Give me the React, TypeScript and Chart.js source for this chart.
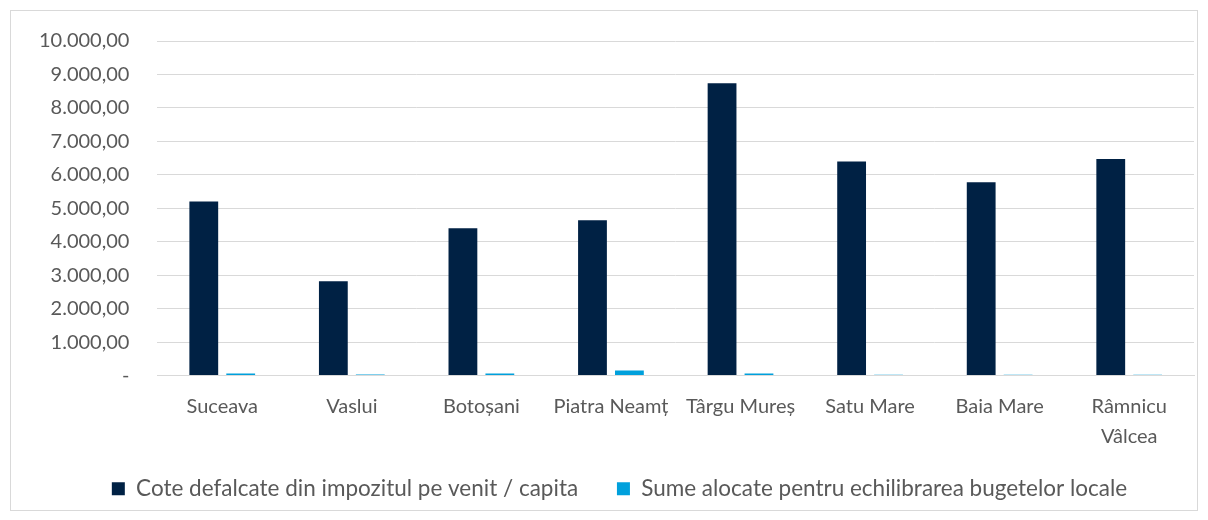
import React, { useEffect, useRef } from "react";
import { Chart, registerables } from "chart.js";

Chart.register(...registerables);

const categories: (string | string[])[] = [
  "Suceava",
  "Vaslui",
  "Botoșani",
  "Piatra Neamț",
  "Târgu Mureș",
  "Satu Mare",
  "Baia Mare",
  ["Râmnicu", "Vâlcea"],
];
const coteDefalcate = [5200, 2815, 4400, 4640, 8740, 6400, 5780, 6470];
const sumeEchilibrare = [60, 30, 60, 150, 60, 25, 25, 25];
const seriesNames = [
  "Cote defalcate din impozitul pe venit / capita",
  "Sume alocate pentru echilibrarea bugetelor locale",
];
const yMin = 0;
const yMax = 10000;
const yStep = 1000;

const FONT = "Lato, 'Open Sans', sans-serif";
const TEXT = "#595959";

function fmt(v: number): string {
  if (v === 0) return "-";
  const s = Math.round(v).toString().replace(/\B(?=(\d{3})+(?!\d))/g, ".");
  return s + ",00";
}

const legendShift = {
  id: "legendShift",
  afterLayout(chart: any) {
    const lg = chart.legend;
    if (lg) {
      lg.left += 17;
      lg.right += 17;
    }
  },
};

export default function App() {
  const ref = useRef<HTMLCanvasElement | null>(null);
  useEffect(() => {
    if (!ref.current) return;
    const chart = new Chart(ref.current, {
      type: "bar",
      data: {
        labels: categories,
        datasets: [
          {
            label: seriesNames[0],
            data: coteDefalcate,
            backgroundColor: "#002144",
            borderWidth: 0,
            categoryPercentage: 0.57,
            barPercentage: 0.78,
          },
          {
            label: seriesNames[1],
            data: sumeEchilibrare,
            backgroundColor: "#00A0DC",
            borderWidth: 0,
            categoryPercentage: 0.57,
            barPercentage: 0.78,
          },
        ],
      },
      plugins: [legendShift],
      options: {
        animation: false,
        responsive: false,
        maintainAspectRatio: false,
        layout: { padding: { left: 0, right: 3, top: 30, bottom: 0 } },
        plugins: {
          legend: {
            position: "bottom",
            labels: {
              boxWidth: 13,
              boxHeight: 13,
              padding: 10,
              color: TEXT,
              font: { family: FONT, size: 22.5 },
              generateLabels: (c: any) => {
                const items = Chart.defaults.plugins.legend.labels.generateLabels(c);
                if (items.length > 0) items[0].text = items[0].text + "     ";
                return items;
              },
            },
          },
          tooltip: { enabled: false },
        },
        scales: {
          x: {
            grid: { display: false, drawTicks: false },
            border: { color: "#d9d9d9", width: 1 },
            ticks: {
              color: TEXT,
              font: { family: FONT, size: 20, lineHeight: 1.5 },
              padding: 16,
              maxRotation: 0,
              autoSkip: false,
            },
          },
          y: {
            min: yMin,
            max: yMax,
            grid: { color: "#d9d9d9", drawTicks: false },
            border: { display: false },
            afterFit: (s: any) => {
              s.paddingTop = 0;
            },
            ticks: {
              stepSize: yStep,
              color: TEXT,
              font: { family: FONT, size: 20 },
              padding: 28,
              callback: (v: any) => fmt(Number(v)),
            },
          },
        },
      },
    });
    return () => chart.destroy();
  }, []);
  return (
    <div
      style={{
        position: "absolute",
        left: 10,
        top: 10,
        width: 1186,
        height: 499,
        border: "1px solid #d9d9d9",
        background: "#fff",
      }}
    >
      <canvas ref={ref} width={1186} height={499} style={{ display: "block" }} />
    </div>
  );
}
